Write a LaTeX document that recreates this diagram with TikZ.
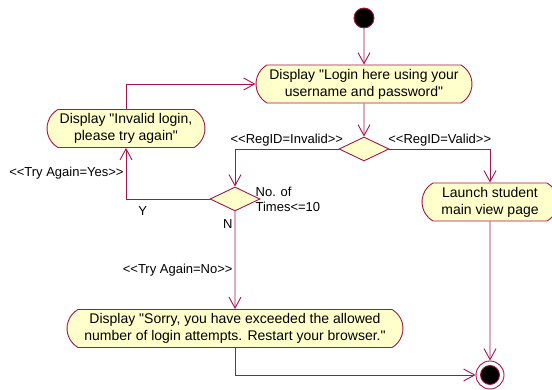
\documentclass[tikz,border=0pt]{standalone}
\usepackage{fontspec}
\setmainfont{Liberation Sans}[Ligatures=TeXOff]
\usepackage{tikz}
\usetikzlibrary{positioning,shapes.geometric,shapes.misc,arrows.meta}
\definecolor{umlred}{RGB}{165,20,75}
\definecolor{umlfill}{RGB}{255,255,204}

\begin{document}
\begin{tikzpicture}[x=1pt,y=1pt,on grid,
    >={Straight Barb[length=11pt,width=12pt]},
    activity/.style={rounded rectangle, rounded rectangle arc length=120,
        draw=umlred, fill=umlfill, line width=0.9pt, minimum height=38pt,
        inner sep=2pt, align=center, font=\fontsize{14}{17}\selectfont},
    decision/.style={diamond, draw=umlred, fill=umlfill, line width=0.9pt,
        minimum width=50pt, minimum height=24pt, inner sep=0pt},
    flow/.style={->, draw=umlred, line width=0.9pt},
    lbl/.style={font=\fontsize{13}{15}\selectfont, inner sep=2pt}]
   \useasboundingbox (0,0) rectangle (552,390);

   \node[circle, fill=black, draw=umlred, line width=0.9pt, minimum size=20pt, inner sep=0pt] (start) at (364,372) {};
   \node[activity, minimum width=220pt] (login) [below=66pt of start] {Display "Login here using your\\username and password"};
   \node[decision] (check_id) [below=65pt of login] {};
   \node[decision] (check_times) [below left=50pt and 129pt of check_id] {};
   \node[activity, minimum width=162pt] (invalid) [above left=70.5pt and 109pt of check_times] {Display "Invalid login,\\please try again"};
   \node[activity, minimum width=140pt] (launch) [below right=53pt and 126pt of check_id] {Launch student\\main view page};
   \node[activity, minimum width=340pt] (sorry) [below=129.5pt of check_times] {Display "Sorry, you have exceeded the allowed\\number of login attempts. Restart your browser."};
   \node[circle, draw=umlred, fill=white, line width=0.9pt, minimum size=28pt, inner sep=0pt,
        path picture={\filldraw[fill=black, draw=umlred] (path picture bounding box.center) circle (9.5pt);}]
        (stop) [below=173pt of launch] {};

   \node[lbl, align=left, anchor=west] (times_lbl) at ([xshift=-7pt]check_times.east) {No. of\\Times<=10};

   \draw[flow] (start) -- (login);
   \draw[flow] (login) -- (check_id);
   \draw[flow] (check_id) -| node[lbl, pos=0.25, above] {<<RegID=Invalid>>} (check_times);
   \draw[flow] (check_id) -| node[lbl, pos=0.25, above] {<<RegID=Valid>>} (launch);
   \draw[flow] (launch) -- (stop);
   \draw[flow] (check_times) -| node[lbl, pos=0.4, below=5pt] {Y}
        node[lbl, pos=0.75, left] {<<Try Again=Yes>>} (invalid);
   \draw[flow] (check_times) -- node[lbl, pos=0.13, left] {N}
        node[lbl, pos=0.6, left] {<<Try Again=No>>} (sorry);
   \draw[flow] (invalid) |- (login);
   \draw[flow] (sorry) |- (stop);
\end{tikzpicture}
\end{document}
